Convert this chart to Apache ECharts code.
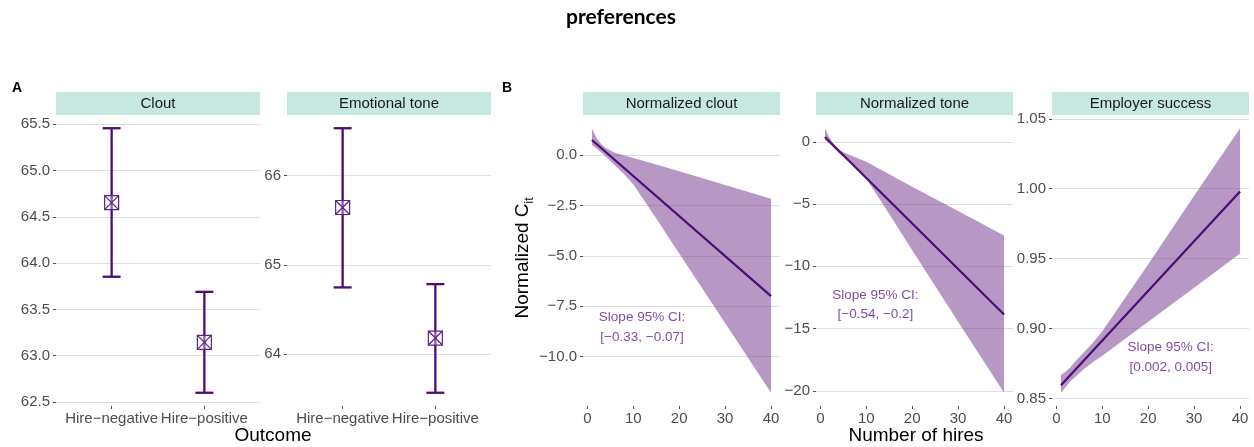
<!DOCTYPE html>
<html><head><meta charset="utf-8">
<script src="https://cdn.jsdelivr.net/npm/echarts@6/dist/echarts.min.js"></script>
<style>html,body{margin:0;padding:0;background:#fff}#c{width:1254px;height:447px}</style>
</head><body><div id="c"></div>
<script>
// ---------- data ----------
const outcomeCategories = ["Hire−negative", "Hire−positive"];
const cloutMean = [64.654, 63.144];
const cloutLow  = [63.853, 62.600];
const cloutHigh = [65.457, 63.690];
const toneMean  = [65.642, 64.180];
const toneLow   = [64.747, 63.567];
const toneHigh  = [66.530, 64.784];

const hiresX = [1, 2, 3, 4, 6, 8, 10, 15, 20, 30, 40];
const normCloutUpper = [1.33, 0.85, 0.55, 0.35, 0.12, -0.02, -0.15, -0.47, -0.80, -1.48, -2.17];
const normCloutLower = [0.50, 0.33, 0.14, -0.07, -0.50, -0.95, -1.45, -3.15, -4.88, -8.33, -11.79];
const normToneUpper  = [1.10, 0.35, -0.30, -0.65, -1.00, -1.30, -1.60, -2.60, -3.60, -5.55, -7.53];
const normToneLower  = [0.15, -0.15, -0.50, -0.90, -1.50, -2.20, -2.95, -5.80, -8.70, -14.45, -20.16];
const successUpper   = [0.8667, 0.869, 0.872, 0.876, 0.883, 0.890, 0.898, 0.922, 0.946, 0.995, 1.0433];
const successLower   = [0.854, 0.858, 0.862, 0.865, 0.871, 0.876, 0.8805, 0.8927, 0.9049, 0.9292, 0.9536];

const fitX = [1, 40];
const normCloutFit = [0.745, -7.00];
const normToneFit  = [0.40, -13.87];
const successFit   = [0.8593, 0.998];

const slopeCI = [[-0.33, -0.07], [-0.54, -0.2], [0.002, 0.005]];
const slopeLabelAt = [[11.9, -8.55], [12.0, -13.1], [24.9, 0.8793]];

const cloutTicks = [62.5, 63.0, 63.5, 64.0, 64.5, 65.0, 65.5];
const toneTicks = [64, 65, 66];
const normCloutTicks = [-10, -7.5, -5, -2.5, 0];
const normToneTicks = [-20, -15, -10, -5, 0];
const successTicks = [0.85, 0.90, 0.95, 1.00, 1.05];
const hiresTicks = [0, 10, 20, 30, 40];
const outcomeTicks = [1, 2];

const stripTitles = ["Clout", "Emotional tone", "Normalized clout", "Normalized tone", "Employer success"];

// ---------- styles ----------
const FONT = "'Liberation Sans', Arial, sans-serif";
const PURPLE = "#4d0c72";
const MARK = "#5e2290";
const RIBBON = "rgba(111,49,139,0.5)";
const GRID = "#dedede";
const TICKC = "#4d4d4d";

const grids = [
  {left: 56, top: 115, width: 204, height: 291},
  {left: 287, top: 115, width: 204, height: 291},
  {left: 583, top: 115, width: 197, height: 291},
  {left: 816, top: 115, width: 197, height: 291},
  {left: 1052, top: 115, width: 197, height: 291}
];

function fmt(dec) {
  return v => (v < 0 ? "−" : "") + Math.abs(v).toFixed(dec);
}
function expand(arrs) {
  const all = [].concat(...arrs);
  const lo = Math.min(...all), hi = Math.max(...all), r = hi - lo;
  return [lo - 0.05 * r, hi + 0.05 * r];
}

function yAxis(idx, ticks, range, dec) {
  return {
    gridIndex: idx, type: "value", min: range[0], max: range[1],
    axisLine: {show: false, onZero: false},
    axisTick: {show: true, length: 3, customValues: ticks, lineStyle: {color: TICKC, width: 1}},
    axisLabel: {customValues: ticks, formatter: fmt(dec), color: TICKC, fontSize: 15, fontFamily: FONT, margin: 6},
    splitLine: {show: true, lineStyle: {color: GRID, width: 1}}
  };
}
function xAxis(idx, ticks, range, formatter) {
  return {
    gridIndex: idx, type: "value", min: range[0], max: range[1], position: "bottom",
    axisLine: {show: false, onZero: false},
    axisTick: {show: true, length: 3, customValues: ticks, lineStyle: {color: TICKC, width: 1}},
    axisLabel: {customValues: ticks, formatter: formatter, color: TICKC, fontSize: 15, fontFamily: FONT, margin: 5},
    splitLine: {show: false}
  };
}

const outcomeRange = [0.4, 2.6];
const hiresSpan = hiresX[hiresX.length - 1] - hiresX[0];
const hiresRange = [hiresX[0] - 0.05 * hiresSpan, hiresX[hiresX.length - 1] + 0.05 * hiresSpan];

const xAxes = [
  xAxis(0, outcomeTicks, outcomeRange, v => outcomeCategories[Math.round(v) - 1]),
  xAxis(1, outcomeTicks, outcomeRange, v => outcomeCategories[Math.round(v) - 1]),
  xAxis(2, hiresTicks, hiresRange, v => String(v)),
  xAxis(3, hiresTicks, hiresRange, v => String(v)),
  xAxis(4, hiresTicks, hiresRange, v => String(v))
];
const yAxes = [
  yAxis(0, cloutTicks, expand([cloutLow, cloutHigh]), 1),
  yAxis(1, toneTicks, expand([toneLow, toneHigh]), 0),
  yAxis(2, normCloutTicks, expand([normCloutLower, normCloutUpper]), 1),
  yAxis(3, normToneTicks, expand([normToneLower, normToneUpper]), 0),
  yAxis(4, successTicks, expand([successLower, successUpper]), 2)
];

function errorbarSeries(idx, mean, low, high) {
  const data = mean.map((m, i) => [outcomeTicks[i], low[i], high[i], m]);
  const capHalf = 0.097;
  return {
    type: "custom", xAxisIndex: idx, yAxisIndex: idx, data: data,
    encode: {x: 0, y: [1, 2]}, z: 5,
    renderItem: (params, api) => {
      const x = api.value(0), lo = api.value(1), hi = api.value(2), m = api.value(3);
      const pLo = api.coord([x, lo]), pHi = api.coord([x, hi]), pM = api.coord([x, m]);
      const xl = api.coord([x - capHalf, lo])[0], xr = api.coord([x + capHalf, lo])[0];
      const s = 7;
      const lw = {stroke: PURPLE, lineWidth: 2.3};
      const mk = {stroke: MARK, lineWidth: 1.2, fill: null};
      return {type: "group", children: [
        {type: "line", shape: {x1: pLo[0], y1: pLo[1], x2: pHi[0], y2: pHi[1]}, style: lw},
        {type: "line", shape: {x1: xl, y1: pLo[1], x2: xr, y2: pLo[1]}, style: lw},
        {type: "line", shape: {x1: xl, y1: pHi[1], x2: xr, y2: pHi[1]}, style: lw},
        {type: "rect", shape: {x: pM[0] - s, y: pM[1] - s, width: 2 * s, height: 2 * s}, style: {stroke: MARK, lineWidth: 1.2, fill: "rgba(255,255,255,0.35)"}},
        {type: "line", shape: {x1: pM[0] - s, y1: pM[1] - s, x2: pM[0] + s, y2: pM[1] + s}, style: mk},
        {type: "line", shape: {x1: pM[0] - s, y1: pM[1] + s, x2: pM[0] + s, y2: pM[1] - s}, style: mk}
      ]};
    }
  };
}

function ribbonSeries(idx, xs, upper, lower) {
  return {
    type: "custom", xAxisIndex: idx, yAxisIndex: idx, z: 2,
    data: [[xs[0], upper[0]]], encode: {x: 0, y: 1}, silent: true,
    renderItem: (params, api) => {
      const pts = [];
      for (let i = 0; i < xs.length; i++) pts.push(api.coord([xs[i], upper[i]]));
      for (let i = xs.length - 1; i >= 0; i--) pts.push(api.coord([xs[i], lower[i]]));
      return {type: "polygon", shape: {points: pts}, style: {fill: RIBBON, stroke: null}};
    }
  };
}

function fitSeries(idx, xs, ys) {
  return {
    type: "line", xAxisIndex: idx, yAxisIndex: idx, z: 4, showSymbol: false, symbol: "none",
    data: xs.map((x, i) => [x, ys[i]]),
    lineStyle: {color: PURPLE, width: 2.2}, silent: true
  };
}

function ciLabelSeries(idx, k) {
  const ci = slopeCI[k];
  const f = v => (v < 0 ? "−" : "") + String(Math.abs(v));
  return {
    type: "scatter", xAxisIndex: idx, yAxisIndex: idx, z: 6, symbolSize: 0, silent: true,
    data: [slopeLabelAt[k]],
    label: {show: true, position: "inside", formatter: "Slope 95% CI:\n[" + f(ci[0]) + ", " + f(ci[1]) + "]",
      color: "#5b1a8b", fontSize: 13.5, lineHeight: 19.5, fontFamily: FONT, align: "center"}
  };
}

const graphics = [];
grids.forEach((g, i) => {
  graphics.push({type: "rect", left: g.left, top: 92, shape: {width: g.width, height: 23}, style: {fill: "#c7e8e0"}, z: 1});
  graphics.push({type: "text", x: g.left + g.width / 2, y: 103.5, style: {text: stripTitles[i], fill: "#1a1a1a", font: "15px " + FONT, textAlign: "center", textVerticalAlign: "middle"}, z: 2});
});
graphics.push({type: "text", x: 621, y: 17, style: {text: "preferences", fill: "#000", font: "bold 21px Lato, 'Liberation Sans', sans-serif", textAlign: "center", textVerticalAlign: "middle"}});
graphics.push({type: "text", x: 12, y: 88, style: {text: "A", fill: "#000", font: "bold 14px " + FONT, textAlign: "left", textVerticalAlign: "middle"}});
graphics.push({type: "text", x: 502, y: 88, style: {text: "B", fill: "#000", font: "bold 14px " + FONT, textAlign: "left", textVerticalAlign: "middle"}});
graphics.push({type: "text", x: 273, y: 436, style: {text: "Outcome", fill: "#000", font: "19px " + FONT, textAlign: "center", textVerticalAlign: "middle"}});
graphics.push({type: "text", x: 916, y: 436, style: {text: "Number of hires", fill: "#000", font: "19px " + FONT, textAlign: "center", textVerticalAlign: "middle"}});
graphics.push({type: "text", x: 523, y: 258, rotation: Math.PI / 2,
  style: {text: "{m|Normalized C}{s|it}", textAlign: "center", textVerticalAlign: "middle",
    rich: {m: {fontSize: 19, fontFamily: FONT, fill: "#000", lineHeight: 26, verticalAlign: "middle"},
           s: {fontSize: 12, fontFamily: FONT, fill: "#000", lineHeight: 26, verticalAlign: "bottom", padding: [6, 0, 0, 0]}}}});

const option = {
  animation: false,
  backgroundColor: "#ffffff",
  grid: grids.map(g => Object.assign({containLabel: false}, g)),
  xAxis: xAxes,
  yAxis: yAxes,
  graphic: graphics,
  series: [
    errorbarSeries(0, cloutMean, cloutLow, cloutHigh),
    errorbarSeries(1, toneMean, toneLow, toneHigh),
    ribbonSeries(2, hiresX, normCloutUpper, normCloutLower),
    fitSeries(2, fitX, normCloutFit),
    ciLabelSeries(2, 0),
    ribbonSeries(3, hiresX, normToneUpper, normToneLower),
    fitSeries(3, fitX, normToneFit),
    ciLabelSeries(3, 1),
    ribbonSeries(4, hiresX, successUpper, successLower),
    fitSeries(4, fitX, successFit),
    ciLabelSeries(4, 2)
  ]
};
const chart = echarts.init(document.getElementById("c"), null, {renderer: "canvas"});
chart.setOption(option);
</script>
</body></html>
